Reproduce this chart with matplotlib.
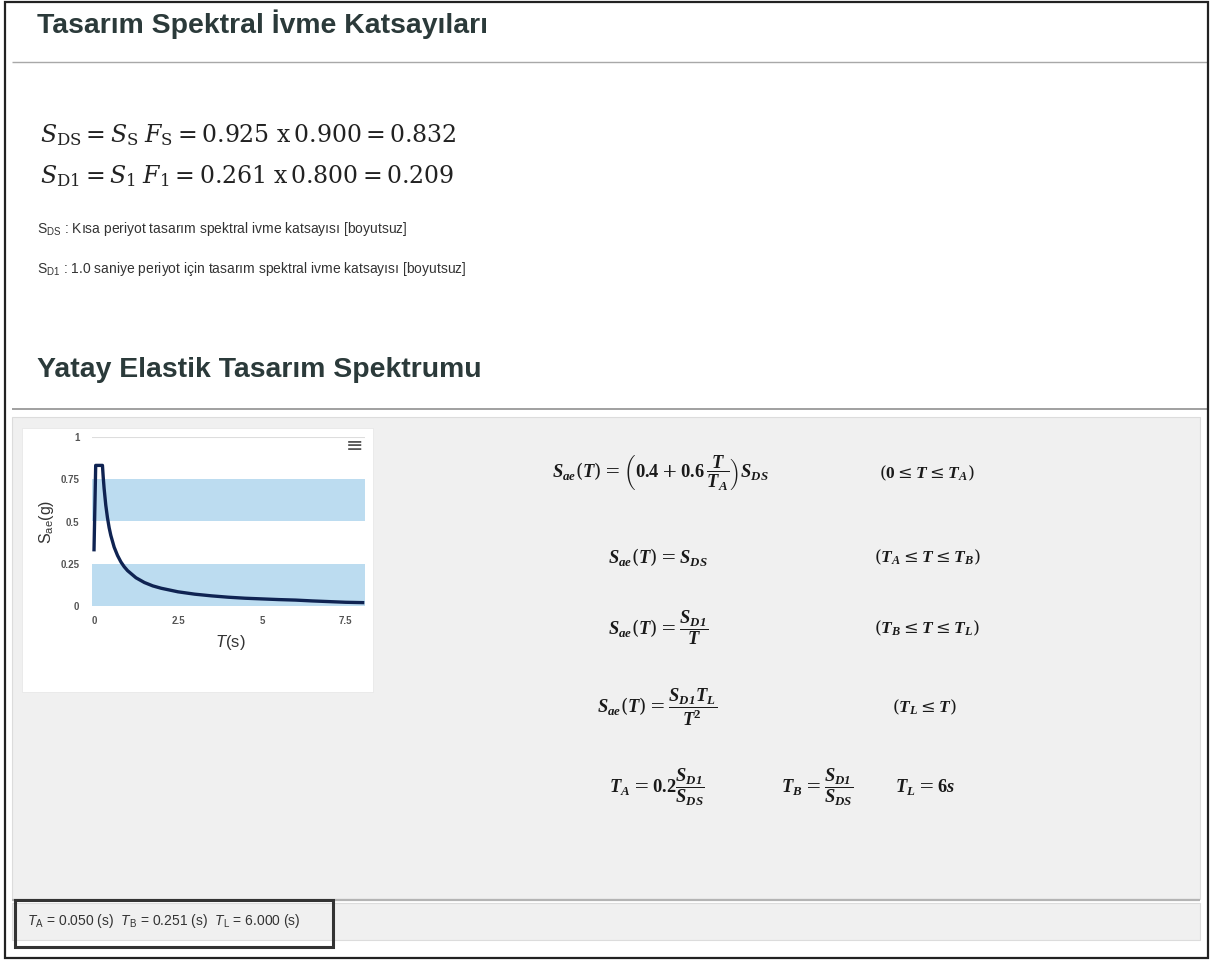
import matplotlib
matplotlib.use("Agg")
import matplotlib.pyplot as plt
from matplotlib.patches import Rectangle

# --- veri ---
periods = [0.0, 0.05, 0.251, 0.275, 0.3, 0.35, 0.4, 0.45, 0.5, 0.6, 0.7, 0.8, 0.9,
           1.0, 1.25, 1.5, 1.75, 2.0, 2.5, 3.0, 3.5, 4.0, 4.5, 5.0, 5.5, 6.0,
           6.5, 7.0, 7.5, 8.0]
sae = [0.333, 0.832, 0.832, 0.760, 0.697, 0.597, 0.523, 0.464, 0.418, 0.348, 0.299,
       0.261, 0.232, 0.209, 0.167, 0.139, 0.119, 0.105, 0.084, 0.070, 0.060, 0.052,
       0.046, 0.042, 0.038, 0.035, 0.030, 0.026, 0.022, 0.020]
bands = [(0.0, 0.25), (0.5, 0.75)]
y_ticks = [0, 0.25, 0.5, 0.75, 1]
y_tick_labels = ["0", "0.25", "0.5", "0.75", "1"]
x_ticks = [0, 2.5, 5, 7.5]
x_tick_labels = ["0", "2.5", "5", "7.5"]

title_1 = "Tasarım Spektral İvme Katsayıları"
title_2 = "Yatay Elastik Tasarım Spektrumu"
sds_line = r"$S_\mathrm{DS} = S_\mathrm{S}\;F_\mathrm{S} = 0.925\ \mathrm{x}\,0.900 = 0.832$"
sd1_line = r"$S_\mathrm{D1} = S_1\;F_1 = 0.261\ \mathrm{x}\,0.800 = 0.209$"
sds_note = r"$\mathsf{S}_\mathsf{DS}$ : Kısa periyot tasarım spektral ivme katsayısı [boyutsuz]"
sd1_note = r"$\mathsf{S}_\mathsf{D1}$ : 1.0 saniye periyot için tasarım spektral ivme katsayısı [boyutsuz]"
periods_note = (r"$\mathcal{T}_\mathsf{A}$ = 0.050 (s)  $\mathcal{T}_\mathsf{B}$ = 0.251 (s)  "
                r"$\mathcal{T}_\mathsf{L}$ = 6.000 (s)")

# formüller: (metin, x merkezi, y)
formulas = [
    (r"$\mathbfit{S}_{\mathbfit{ae}}(\mathbfit{T}) = \left(\mathbf{0.4} + \mathbf{0.6}"
     r"\,\dfrac{\mathbfit{T}}{\mathbfit{T}_{\mathbfit{A}}}\right)\mathbfit{S}_{\mathbfit{DS}}$", 660, 473),
    (r"$\mathbfit{S}_{\mathbfit{ae}}(\mathbfit{T}) = \mathbfit{S}_{\mathbfit{DS}}$", 658, 557),
    (r"$\mathbfit{S}_{\mathbfit{ae}}(\mathbfit{T}) = \dfrac{\mathbfit{S}_{\mathbfit{D1}}}{\mathbfit{T}}$", 658, 628),
    (r"$\mathbfit{S}_{\mathbfit{ae}}(\mathbfit{T}) = \dfrac{\mathbfit{S}_{\mathbfit{D1}}"
     r"\mathbfit{T}_{\mathbfit{L}}}{\mathbfit{T}^\mathbf{2}}$", 657, 707),
    (r"$\mathbfit{T}_{\mathbfit{A}} = \mathbf{0.2}\dfrac{\mathbfit{S}_{\mathbfit{D1}}}{\mathbfit{S}_{\mathbfit{DS}}}$", 657, 787),
    (r"$\mathbfit{T}_{\mathbfit{B}} = \dfrac{\mathbfit{S}_{\mathbfit{D1}}}{\mathbfit{S}_{\mathbfit{DS}}}$", 817, 787),
    (r"$\mathbfit{T}_{\mathbfit{L}} = \mathbf{6}\mathbfit{s}$", 925, 787),
]
conditions = [
    (r"$(\mathbf{0} \leq \mathbfit{T} \leq \mathbfit{T}_{\mathbfit{A}})$", 927, 473),
    (r"$(\mathbfit{T}_{\mathbfit{A}} \leq \mathbfit{T} \leq \mathbfit{T}_{\mathbfit{B}})$", 927, 557),
    (r"$(\mathbfit{T}_{\mathbfit{B}} \leq \mathbfit{T} \leq \mathbfit{T}_{\mathbfit{L}})$", 927, 628),
    (r"$(\mathbfit{T}_{\mathbfit{L}} \leq \mathbfit{T})$", 925, 707),
]

plt.rcParams["font.family"] = ["Liberation Sans", "DejaVu Sans"]
plt.rcParams["mathtext.fontset"] = "custom"
plt.rcParams["mathtext.rm"] = "DejaVu Serif"
plt.rcParams["mathtext.it"] = "DejaVu Serif:italic"
plt.rcParams["mathtext.bf"] = "Liberation Serif:bold"
plt.rcParams["mathtext.bfit"] = "Liberation Serif:italic:bold"
plt.rcParams["mathtext.sf"] = "Liberation Sans"
plt.rcParams["mathtext.cal"] = "Liberation Sans:italic"  # italik sans T için

W, H = 1218, 963
fig = plt.figure(figsize=(W / 100, H / 100), dpi=100)
fig.patch.set_facecolor("white")

# sayfa katmanı, piksel koordinatlarıyla
page = fig.add_axes([0, 0, 1, 1])
page.set_xlim(0, W)
page.set_ylim(H, 0)
page.axis("off")

page.add_patch(Rectangle((5, 2), 1203, 956, fill=False, ec="#222222", lw=1.6, zorder=5))
page.hlines(62, 12, 1207, color="#a8a8a8", lw=1.0)
page.hlines(409, 12, 1207, color="#999999", lw=1.3)
page.add_patch(Rectangle((12, 417), 1188, 482, fc="#f0f0f0", ec="#dcdcdc", lw=0.8))
page.hlines(900, 12, 1200, color="#b4b4b4", lw=1.6)
page.add_patch(Rectangle((12, 903), 1188, 37, fc="#f0f0f0", ec="#dcdcdc", lw=0.8))
page.add_patch(Rectangle((15, 900), 318, 47, fill=False, ec="#333333", lw=2.2, zorder=4))
page.add_patch(Rectangle((22, 428), 351, 264, fc="white", ec="#e8e8e8", lw=0.6))

title_color = "#2b3a3a"
page.text(37, 33, title_1, fontsize=20.4, fontweight="bold", color=title_color, va="baseline")
page.text(37, 377, title_2, fontsize=20.4, fontweight="bold", color=title_color, va="baseline")

page.text(40, 135, sds_line, fontsize=17, color="#222222", va="center")
page.text(40, 176, sd1_line, fontsize=17, color="#222222", va="center")
page.text(37, 229, sds_note, fontsize=10, color="#333333", va="center")
page.text(37, 269, sd1_note, fontsize=10, color="#333333", va="center")

for txt, x, y in formulas:
    page.text(x, y, txt, fontsize=13.3, color="#1a1a1a", ha="center", va="center")
for txt, x, y in conditions:
    page.text(x, y, txt, fontsize=12.6, color="#1a1a1a", ha="center", va="center")

page.text(27, 921, periods_note, fontsize=10, color="#333333", va="center")

# grafik etiketleri
page.text(46, 522, r"$\mathsf{S}_\mathsf{ae}$(g)", fontsize=11.5, color="#333333",
          rotation=90, ha="center", va="center")
page.text(230, 642, r"$\mathcal{T}$(s)", fontsize=12, color="#333333", ha="center", va="center")
page.text(355, 446, "≡", fontsize=15, color="#555555", ha="center", va="center",
          family="DejaVu Sans")

# spektrum grafiği
x0, x1, y_top, y_bot = 92, 365, 437, 606
ax = fig.add_axes([x0 / W, 1 - y_bot / H, (x1 - x0) / W, (y_bot - y_top) / H])
ax.set_facecolor("none")
for lo, hi in bands:
    ax.axhspan(lo, hi, color="#bcdcf0", lw=0, zorder=0)
ax.axhline(1, color="#dddddd", lw=0.8, zorder=1)
ax.plot(periods, sae, color="#0f2352", lw=2.4, zorder=3, solid_joinstyle="round")
ax.set_xlim(-0.06, 8.07)
ax.set_ylim(0, 1)
for s in ax.spines.values():
    s.set_visible(False)
ax.set_yticks(y_ticks, y_tick_labels)
ax.set_xticks(x_ticks, x_tick_labels)
ax.tick_params(length=0, labelsize=7, labelcolor="#555555")
for lbl in ax.get_xticklabels() + ax.get_yticklabels():
    lbl.set_fontweight("bold")
ax.tick_params(axis="y", pad=9)
ax.tick_params(axis="x", pad=7)

fig.savefig("out.png", dpi=100)
